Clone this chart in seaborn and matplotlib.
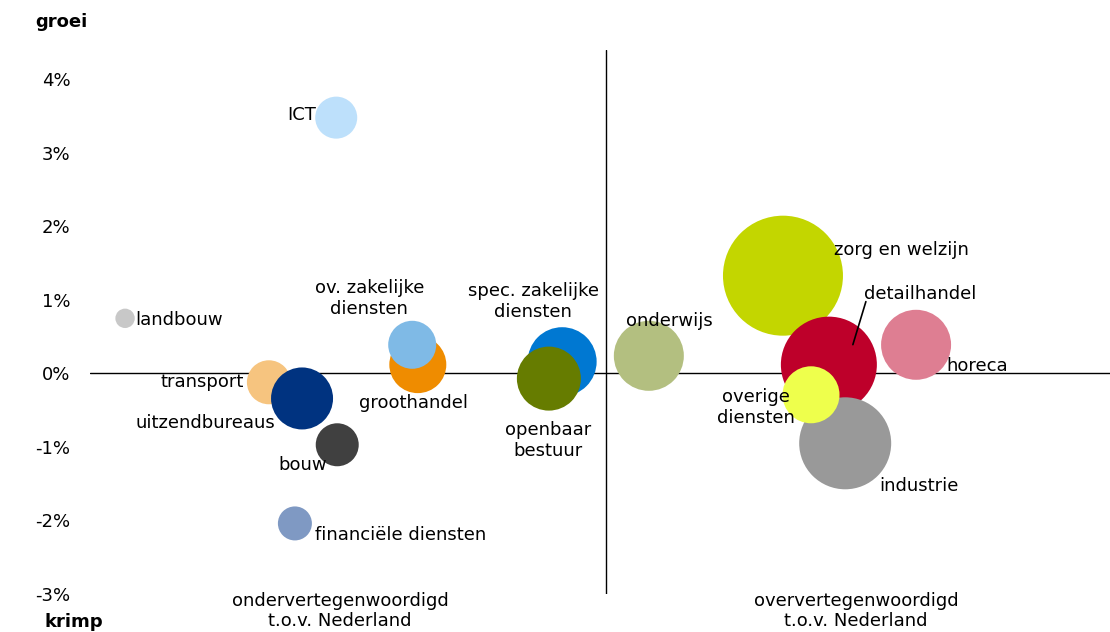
import pandas as pd
import numpy as np
import matplotlib
matplotlib.use('Agg')
import matplotlib.pyplot as plt
import matplotlib.transforms as mtransforms
import seaborn as sns

# sectoren: vertegenwoordiging (index, 1 = NL), groei (%), omvang (bolgrootte)
sectoren = ['landbouw', 'ICT', 'financiële diensten', 'transport', 'uitzendbureaus', 'bouw',
            'groothandel', 'ov. zakelijke\ndiensten', 'spec. zakelijke\ndiensten',
            'openbaar\nbestuur', 'onderwijs', 'zorg en welzijn', 'horeca', 'detailhandel',
            'industrie', 'overige\ndiensten']
index_nl = [0.057, 0.471, 0.390, 0.339, 0.404, 0.473,
            0.631, 0.620, 0.914,
            0.888, 1.084, 1.347, 1.608, 1.437,
            1.469, 1.402]
groei = [0.75, 3.48, -2.04, -0.12, -0.34, -0.97,
         0.12, 0.39, 0.16,
         -0.07, 0.24, 1.33, 0.39, 0.12,
         -0.95, -0.29]
omvang = [94, 441, 289, 484, 961, 462,
          812, 576, 1190,
          1024, 1225, 3600, 1225, 2304,
          2116, 812]
kleuren = ['#c8c8c8', '#bde0fb', '#7f99c3', '#f6c47f', '#003380', '#404040',
           '#ef8c00', '#7fbae6', '#0078d2',
           '#667c00', '#b3bf80', '#c3d600', '#de7e92', '#be002a',
           '#999999', '#eeff4c']

# label plaatsing t.o.v. bolmidden (pixels) en uitlijning
label_dx = [10, -20, 20, -25, -27, -35, -4, -43, -29, -1, 21, 51, 30, 35, 34, -55]
label_dy = [-2, 3, -12, 0, -25, -20, -38, 46, 60, -62, 35, 26, -21, 71, -43, -13]
label_ha = ['left', 'right', 'left', 'right', 'right', 'center', 'center', 'center', 'center',
            'center', 'center', 'left', 'left', 'left', 'left', 'center']

df = pd.DataFrame({'sector': sectoren, 'index': index_nl, 'groei': groei, 'omvang': omvang})

sns.set_style('white')
plt.rcParams['font.family'] = ['DejaVu Sans']
plt.rcParams['axes.unicode_minus'] = False
plt.rcParams['text.color'] = 'black'
plt.rcParams['ytick.color'] = 'black'
plt.rcParams['ytick.labelcolor'] = 'black'

fig = plt.figure(figsize=(11.1, 6.32), dpi=100)
ax = fig.add_axes([90 / 1110, 1 - 594 / 632, 1 - 90 / 1110, (594 - 50) / 632])

ax.axhline(0, color='black', lw=1.0, zorder=1)
ax.axvline(1.0, color='black', lw=1.0, zorder=1)

k = 2.0736  # pixels^2 -> points^2 (dpi 100)
sns.scatterplot(data=df, x='index', y='groei', hue='sector', size='omvang',
                palette=dict(zip(sectoren, kleuren)), hue_order=sectoren,
                sizes=(k * min(omvang), k * max(omvang)), size_norm=(min(omvang), max(omvang)),
                linewidth=0, alpha=1, legend=False, ax=ax, zorder=2)

for i, naam in enumerate(sectoren):
    ax.annotate(naam, xy=(index_nl[i], groei[i]), xytext=(label_dx[i], label_dy[i]),
                textcoords='offset pixels', ha=label_ha[i], va='center',
                multialignment='center', fontsize=13, color='black', zorder=3)

# verbindingslijn detailhandel
d = sectoren.index('detailhandel')
ax.annotate('', xy=(index_nl[d], groei[d]), xytext=(index_nl[d], groei[d]),
            xycoords=mtransforms.offset_copy(ax.transData, fig=fig, x=24, y=20, units='dots'),
            textcoords=mtransforms.offset_copy(ax.transData, fig=fig, x=37, y=63, units='dots'),
            arrowprops=dict(arrowstyle='-', color='black', lw=1.2, shrinkA=0, shrinkB=0), zorder=3)

ax.set_xlim(1 - 516 / 510, 1 + 504 / 510)
ax.set_ylim(-3, 4.4)
ax.set_yticks(range(-3, 5))
ax.set_yticklabels([f'{v}%' for v in range(-3, 5)], fontsize=13)
ax.set_xticks([])
ax.tick_params(axis='y', length=0, pad=14, labelcolor='black')
ax.set_xlabel('')
ax.set_ylabel('')
for s in ax.spines.values():
    s.set_visible(False)

fig.text(35 / 1110, 1 - 22 / 632, 'groei', fontsize=13, fontweight='bold', va='center')
fig.text(45 / 1110, 1 - 622 / 632, 'krimp', fontsize=13, fontweight='bold', va='center')
fig.text(340 / 1110, 1 - 611 / 632, 'ondervertegenwoordigd\nt.o.v. Nederland', fontsize=13,
         ha='center', va='center', multialignment='center')
fig.text(856 / 1110, 1 - 611 / 632, 'oververtegenwoordigd\nt.o.v. Nederland', fontsize=13,
         ha='center', va='center', multialignment='center')

fig.savefig('out.png', dpi=100)
